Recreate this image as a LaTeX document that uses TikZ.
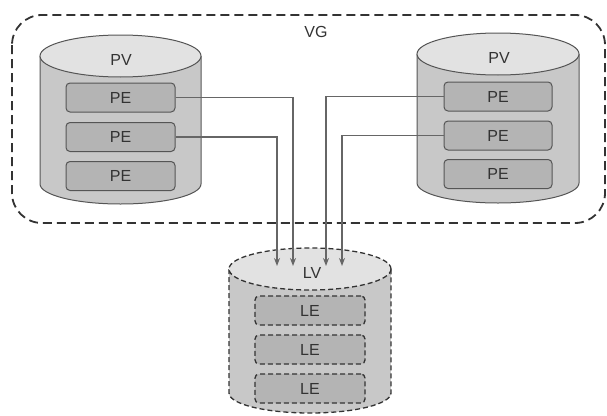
\documentclass[tikz,border=0pt]{standalone}
\usepackage{fontspec}
\setmainfont{Liberation Sans}
\usetikzlibrary{arrows.meta}
\definecolor{bodyc}{HTML}{C8C8C8}
\definecolor{topc}{HTML}{E2E2E2}
\definecolor{boxc}{HTML}{B4B4B4}
\definecolor{linec}{HTML}{555555}
\definecolor{txtc}{HTML}{333333}
\tikzset{
  pebox/.style={draw=linec, line width=1pt, fill=boxc, rounded corners=4pt, minimum width=109pt, minimum height=29pt, inner sep=0pt, text=txtc, font=\fontsize{16}{18}\selectfont},
  lebox/.style={pebox, dashed, dash pattern=on 5pt off 3pt, line width=1.3pt, draw=txtc},
  lbl/.style={text=txtc, font=\fontsize{16}{18}\selectfont, inner sep=0pt},
  cyl/.style={draw=linec, line width=1pt},
  lvcyl/.style={draw=txtc, line width=1.3pt, dash pattern=on 5pt off 3pt},
  arr/.style={draw=linec!90, line width=1.3pt, -{Stealth[length=8pt,width=6pt]}},
  vgbox/.style={draw=txtc, line width=1.8pt, dash pattern=on 9pt off 5pt, rounded corners=30pt}
}
\begin{document}
\begin{tikzpicture}[x=1pt,y=-1pt]
\useasboundingbox (0,0) rectangle (607,415);
% VG
\draw[vgbox] (12,15) rectangle (605,223);
\node[lbl] (vg) at (316,32) {VG};
% left PV cylinder
\fill[bodyc] (40,56) rectangle (201,184);
\fill[bodyc] (120.5,184) ellipse [x radius=80.5, y radius=20];
\draw[cyl] (40,56) -- (40,184) arc[start angle=180, end angle=0, x radius=80.5, y radius=20] -- (201,56);
\draw[cyl, fill=topc] (120.5,56) ellipse [x radius=80.5, y radius=21];
\node[lbl] (pvl) at (121,60) {PV};
% right PV cylinder
\fill[bodyc] (417,54) rectangle (579,183);
\fill[bodyc] (498,183) ellipse [x radius=81, y radius=20];
\draw[cyl] (417,54) -- (417,183) arc[start angle=180, end angle=0, x radius=81, y radius=20] -- (579,54);
\draw[cyl, fill=topc] (498,54) ellipse [x radius=81, y radius=21];
\node[lbl] (pvr) at (499,58) {PV};
% LV cylinder
\fill[bodyc] (229,269) rectangle (391,393);
\fill[bodyc] (310,393) ellipse [x radius=81, y radius=20];
\draw[lvcyl] (229,269) -- (229,393) arc[start angle=180, end angle=0, x radius=81, y radius=20] -- (391,269);
\draw[lvcyl, fill=topc] (310,269) ellipse [x radius=81, y radius=21];
\node[lbl] (lv) at (312,273) {LV};
% PE boxes left
\node[pebox] (lpe1) at (120.5,97.5) {PE};
\node[pebox] (lpe2) at (120.5,137) {PE};
\node[pebox] (lpe3) at (120.5,176) {PE};
% PE boxes right
\node[pebox, minimum width=108pt] (rpe1) at (498,96.5) {PE};
\node[pebox, minimum width=108pt] (rpe2) at (498,135.5) {PE};
\node[pebox, minimum width=108pt] (rpe3) at (498,174) {PE};
% LE boxes
\node[lebox, minimum width=110pt] (le1) at (310,310.5) {LE};
\node[lebox, minimum width=110pt] (le2) at (310,349.5) {LE};
\node[lebox, minimum width=110pt] (le3) at (310,388.5) {LE};
% arrow ends
\coordinate (t1) at (277,266);
\coordinate (t2) at (293,266);
\coordinate (t3) at (326,266);
\coordinate (t4) at (342,266);
\draw[arr] (lpe1.east) -| (t2);
\draw[arr] (lpe2.east) -| (t1);
\draw[arr] (rpe1.west) -| (t3);
\draw[arr] (rpe2.west) -| (t4);
\end{tikzpicture}
\end{document}
